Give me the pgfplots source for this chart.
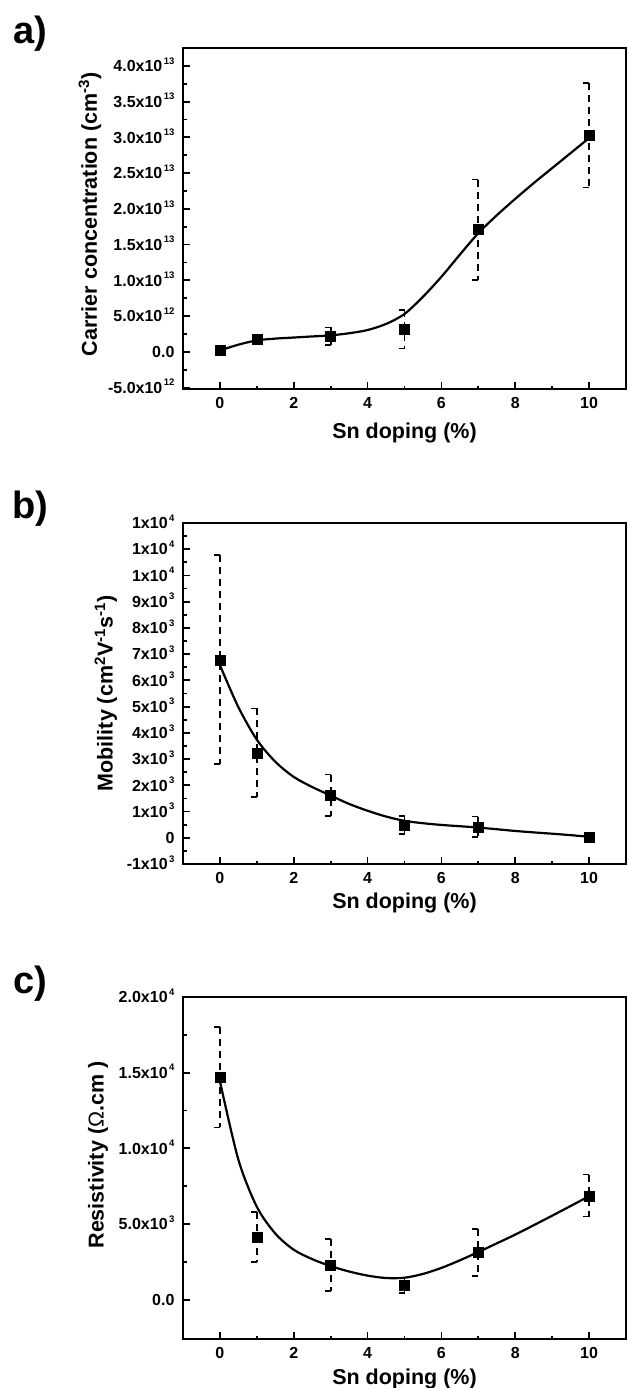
\documentclass[border=0pt]{standalone}
\usepackage{fontspec}
\setmainfont{Liberation Sans}
\usepackage{pgfplots}
\pgfplotsset{compat=1.18}

% small raised exponent used in the tick labels
\newcommand\tsup[1]{\hspace{1.5pt}\raisebox{7.5pt}{\fontsize{9.5}{9.5}\selectfont #1}}

\pgfplotsset{
  panel/.style={
    scale only axis, width=443pt,
    xmin=-1, xmax=11, xtick={0,2,...,10}, minor x tick num=1, minor y tick num=1,
    scaled y ticks=false,
    tick align=inside, xtick pos=bottom, ytick pos=left,
    major tick length=7pt, minor tick length=3.5pt,
    every tick/.style={black, line width=1.8pt},
    axis line style={line width=2.8pt},
    /pgf/number format/assume math mode=true,
    tick label style={font=\fontsize{16}{16}\selectfont\bfseries},
    xticklabel style={anchor=base, yshift=-19.5pt},
    yticklabel style={anchor=base east, xshift=-5pt, yshift=-5.7pt},
    label style={font=\fontsize{21.5}{21.5}\selectfont\bfseries},
    xlabel={Sn doping (\%)},
  },
  ebar/.style={black, line width=1.8pt, dash pattern=on 7pt off 5pt, unbounded coords=jump},
  ecap/.style={black, line width=1.8pt, unbounded coords=jump},
  fitline/.style={black, line width=2.2pt, smooth, no marks},
  pts/.style={only marks, mark=square*, mark size=5pt, black},
}

\begin{document}
\begin{tikzpicture}
\useasboundingbox (0,0) rectangle (627pt,-1388pt);

% ---------------- a) carrier concentration
\begin{axis}[panel, at={(183pt,-389pt)}, anchor=south west, height=341pt,
    ymin=-5.2e12, ymax=4.25e13,
    ytick={-5e12,0,5e12,1e13,1.5e13,2e13,2.5e13,3e13,3.5e13,4e13},
    yticklabels={-5.0x10\tsup{12},0.0,5.0x10\tsup{12},1.0x10\tsup{13},1.5x10\tsup{13},
                 2.0x10\tsup{13},2.5x10\tsup{13},3.0x10\tsup{13},3.5x10\tsup{13},4.0x10\tsup{13}},
    xlabel style={at={(axis description cs:0.5,0)}, anchor=center, yshift=-44pt},
    ylabel={Carrier concentration (cm\textsuperscript{-3})},
    ylabel style={at={(axis description cs:-0.21,0.512)}, anchor=center},
]
\addplot[ebar] coordinates {
  (3,3.41e12) (3,0.93e12) (3,nan)
  (5,5.84e12) (5,0.47e12) (5,nan)
  (7,2.41e13) (7,1.01e13) (7,nan)
  (10,3.76e13) (10,2.30e13)};
\addplot[ecap] coordinates {
  (2.84,3.41e12) (3,3.41e12) (3,nan) (2.84,0.93e12) (3,0.93e12) (3,nan)
  (4.84,5.84e12) (5,5.84e12) (5,nan) (4.84,0.47e12) (5,0.47e12) (5,nan)
  (6.84,2.41e13) (7,2.41e13) (7,nan) (6.84,1.01e13) (7,1.01e13) (7,nan)
  (9.84,3.76e13) (10,3.76e13) (10,nan) (9.84,2.30e13) (10,2.30e13)};
\addplot[fitline] coordinates {
  (0,0.2e12) (0.5,1.0e12) (1,1.6e12) (1.5,1.85e12) (2,2.0e12) (2.5,2.15e12)
  (3,2.3e12) (3.5,2.6e12) (4,3.05e12) (4.5,3.9e12) (5,5.3e12) (5.5,7.7e12)
  (6,1.05e13) (6.5,1.36e13) (7,1.66e13) (7.5,1.91e13) (8,2.14e13) (8.5,2.36e13)
  (9,2.57e13) (9.5,2.78e13) (10,2.99e13)};
\addplot[pts] coordinates {
  (0,0.2e12) (1,1.75e12) (3,2.17e12) (5,3.15e12) (7,1.71e13) (10,3.03e13)};
\end{axis}

% ---------------- b) mobility
\begin{axis}[panel, at={(183pt,-864pt)}, anchor=south west, height=341pt,
    ymin=-1000, ymax=12000,
    ytick={-1000,0,1000,2000,3000,4000,5000,6000,7000,8000,9000,10000,11000,12000},
    yticklabels={-1x10\tsup{3},0,1x10\tsup{3},2x10\tsup{3},3x10\tsup{3},4x10\tsup{3},
                 5x10\tsup{3},6x10\tsup{3},7x10\tsup{3},8x10\tsup{3},9x10\tsup{3},
                 1x10\tsup{4},1x10\tsup{4},1x10\tsup{4}},
    xlabel style={at={(axis description cs:0.5,0)}, anchor=center, yshift=-39pt},
    ylabel={Mobility (cm\textsuperscript{2}V\textsuperscript{-1}s\textsuperscript{-1})},
    ylabel style={at={(axis description cs:-0.174,0.5)}, anchor=center},
]
\addplot[ebar] coordinates {
  (0,10770) (0,2810) (0,nan)
  (1,4930) (1,1550) (1,nan)
  (3,2410) (3,840) (3,nan)
  (5,840) (5,155) (5,nan)
  (7,810) (7,40)};
\addplot[ecap] coordinates {
  (-0.16,10770) (0,10770) (0,nan) (-0.16,2810) (0,2810) (0,nan)
  (0.84,4930) (1,4930) (1,nan) (0.84,1550) (1,1550) (1,nan)
  (2.84,2410) (3,2410) (3,nan) (2.84,840) (3,840) (3,nan)
  (4.84,840) (5,840) (5,nan) (4.84,155) (5,155) (5,nan)
  (6.84,810) (7,810) (7,nan) (6.84,40) (7,40)};
\addplot[fitline] coordinates {
  (0,6580) (0.5,4980) (1,3740) (1.5,2900) (2,2320) (2.5,1935) (3,1610)
  (3.5,1290) (4,1030) (4.5,810) (5,645) (5.5,555) (6,490) (6.5,440) (7,390)
  (7.5,325) (8,260) (8.5,205) (9,155) (9.5,100) (10,40)};
\addplot[pts] coordinates {
  (0,6770) (1,3230) (3,1610) (5,480) (7,410) (10,30)};
\end{axis}

% ---------------- c) resistivity
\begin{axis}[panel, at={(183pt,-1339pt)}, anchor=south west, height=342pt,
    ymin=-2600, ymax=20000,
    ytick={0,5000,10000,15000,20000},
    yticklabels={0.0,5.0x10\tsup{3},1.0x10\tsup{4},1.5x10\tsup{4},2.0x10\tsup{4}},
    xlabel style={at={(axis description cs:0.5,0)}, anchor=center, yshift=-40pt},
    ylabel={Resistivity ({\mdseries Ω}.cm )},
    ylabel style={at={(axis description cs:-0.192,0.538)}, anchor=center},
]
\addplot[ebar] coordinates {
  (0,18000) (0,11380) (0,nan)
  (1,5780) (1,2510) (1,nan)
  (3,4000) (3,560) (3,nan)
  (5,1400) (5,450) (5,nan)
  (7,4670) (7,1560) (7,nan)
  (10,8270) (10,5490)};
\addplot[ecap] coordinates {
  (-0.16,18000) (0,18000) (0,nan) (-0.16,11380) (0,11380) (0,nan)
  (0.84,5780) (1,5780) (1,nan) (0.84,2510) (1,2510) (1,nan)
  (2.84,4000) (3,4000) (3,nan) (2.84,560) (3,560) (3,nan)
  (4.84,1400) (5,1400) (5,nan) (4.84,450) (5,450) (5,nan)
  (6.84,4670) (7,4670) (7,nan) (6.84,1560) (7,1560) (7,nan)
  (9.84,8270) (10,8270) (10,nan) (9.84,5490) (10,5490)};
\addplot[fitline] coordinates {
  (0,14440) (0.5,9250) (1,6140) (1.5,4370) (2,3300) (2.5,2680) (3,2220)
  (3.5,1860) (4,1590) (4.5,1430) (5,1450) (5.5,1700) (6,2100) (6.5,2600)
  (7,3150) (7.5,3720) (8,4300) (8.5,4920) (9,5550) (9.5,6190) (10,6840)};
\addplot[pts] coordinates {
  (0,14700) (1,4110) (3,2300) (5,930) (7,3110) (10,6840)};
\end{axis}

\node[font=\fontsize{38}{38}\selectfont\bfseries] at (30pt,-34pt) {a)};
\node[font=\fontsize{38}{38}\selectfont\bfseries] at (30pt,-509pt) {b)};
\node[font=\fontsize{38}{38}\selectfont\bfseries] at (30pt,-984pt) {c)};
\end{tikzpicture}
\end{document}
